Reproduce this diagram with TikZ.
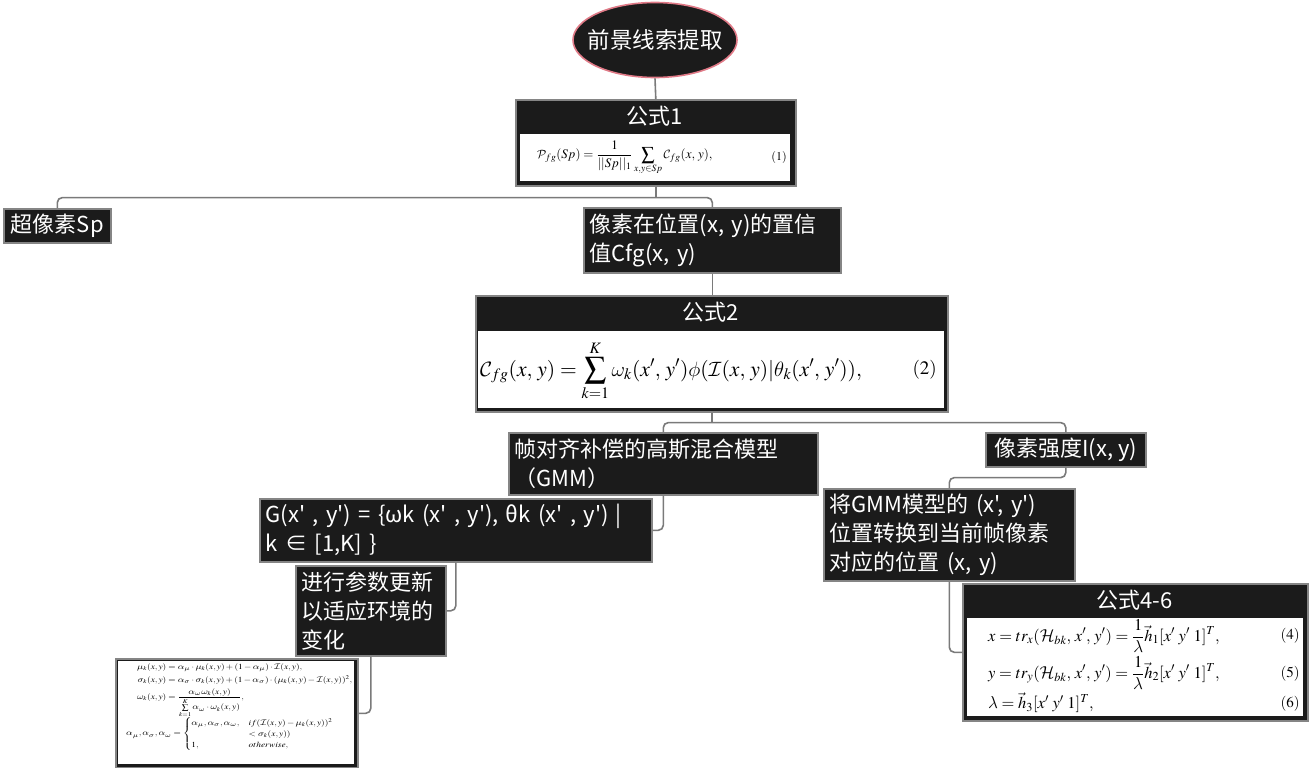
\documentclass[tikz,border=0pt]{standalone}
\usepackage{amsmath}
\usepackage{mathptmx}
\DeclareMathAlphabet{\mathcal}{OMS}{cmsy}{m}{n}
\DeclareSymbolFont{greekit}{OML}{cmm}{m}{it}
\DeclareMathSymbol{\alpha}{\mathord}{greekit}{"0B}
\DeclareMathSymbol{\theta}{\mathord}{greekit}{"12}
\DeclareMathSymbol{\lambda}{\mathord}{greekit}{"15}
\DeclareMathSymbol{\mu}{\mathord}{greekit}{"16}
\DeclareMathSymbol{\sigma}{\mathord}{greekit}{"1B}
\DeclareMathSymbol{\phi}{\mathord}{greekit}{"1E}
\DeclareMathSymbol{\omega}{\mathord}{greekit}{"21}
\usepackage{fontspec}
\setmainfont{Noto Sans CJK SC}[Ligatures=TeXOff]
\usetikzlibrary{shapes.geometric}
\definecolor{boxfill}{HTML}{1B1B1B}
\definecolor{boxline}{HTML}{858585}
\definecolor{linkgray}{HTML}{7A7A7A}
\definecolor{rootline}{HTML}{E07A87}

\begin{document}
\begin{tikzpicture}[x=1pt,y=-1pt,
    topic node/.style={rectangle,draw=boxline,line width=1.6pt,fill=boxfill,text=white,
      font=\fontsize{22}{29}\selectfont,inner xsep=6pt,inner ysep=3pt,anchor=north west,align=left},
    root node/.style={ellipse,draw=rootline,line width=1.6pt,fill=boxfill,text=white,inner sep=0pt,
      font=\fontsize{22.5}{27}\selectfont,minimum width=164pt,minimum height=75pt},
    formula box/.style={rectangle,draw=boxline,line width=1.6pt,fill=boxfill,anchor=north west},
    sheet node/.style={rectangle,fill=white,inner sep=0pt,anchor=north west},
    head node/.style={text=white,font=\fontsize{22}{26}\selectfont,inner sep=0pt},
    eq node/.style={inner sep=0pt,text=black},
    link/.style={draw=linkgray,line width=1.6pt,rounded corners=5pt}]
  \fill[white] (0,0) rectangle (1310,768);
  \useasboundingbox (0,0) rectangle (1310,768);

  % root
  \node[root node] (root) at (655,40) {\makebox[100pt]{前景线索提取}};

  % formula 1
  \node[formula box,minimum width=280pt,minimum height=86pt] (f1) at (515,99) {};
  \node[sheet node,minimum width=270pt,minimum height=47pt] (f1s) at (520,134) {};
  \node[head node] (f1t) at (655,116) {公式1};
  \node[eq node,anchor=west,font=\fontsize{13}{15}\selectfont] (f1e) at (537,158)
    {$\displaystyle \mathcal{P}_{fg}(Sp)=\frac{1}{||Sp||_1}\sum_{x,y\in Sp}\mathcal{C}_{fg}(x,\,y),$};
  \node[eq node,anchor=east,font=\fontsize{12}{14}\selectfont] (f1n) at (787,157) {$(1)$};

  % second level
  \node[topic node,minimum width=107pt,minimum height=34pt] (sp) at (3,208) {超像素Sp};
  \node[topic node,text width=245pt,minimum height=65pt] (cfg) at (583,207)
    {\mbox{像素在位置(x, y)的置信}\\\mbox{值Cfg(x, y)}};

  % formula 2
  \node[formula box,minimum width=472pt,minimum height=116pt] (f2) at (475,295) {};
  \node[sheet node,minimum width=466pt,minimum height=77pt] (f2s) at (478,331) {};
  \node[head node] (f2t) at (711,312.5) {公式2};
  \node[eq node,anchor=west,font=\fontsize{21.5}{24}\selectfont] (f2e) at (480,371)
    {$\displaystyle \mathcal{C}_{fg}(x,\,y)=\sum_{k=1}^{K}\omega_k(x',\,y')\phi(\mathcal{I}(x,\,y)|\theta_k(x',\,y')),$};
  \node[eq node,anchor=east,font=\fontsize{19}{21}\selectfont] (f2n) at (937,370) {$(2)$};

  % GMM branch
  \node[topic node,text width=297pt,minimum height=62pt] (gmm) at (508,432)
    {\mbox{帧对齐补偿的高斯混合模型}\\\mbox{（GMM）}};
  \node[topic node,text width=380pt,minimum height=63pt] (gx) at (259,498)
    {\mbox{G(x' , y') = \{ωk (x' , y'), θk (x' , y') |}\\\mbox{k ∈ [1,K] \}}};
  \node[topic node,text width=138pt,minimum height=90pt] (upd) at (295,565)
    {\mbox{进行参数更新}\\\mbox{以适应环境的}\\\mbox{变化}};

  % update formulas
  \node[formula box,minimum width=242pt,minimum height=109pt] (f3) at (115,658) {};
  \node[sheet node,minimum width=236pt,minimum height=103pt] (f3s) at (118,661) {};
  \node[eq node,anchor=north west,align=left,font=\fontsize{7.8}{9.2}\selectfont] (f3e) at (126,663)
    {\scalebox{1.2}[1]{\begin{tabular}{@{}l@{}}
    \hspace*{9pt}$\begin{aligned}
      \mu_k(x,y) &= \alpha_\mu\cdot\mu_k(x,y)+(1-\alpha_\mu)\cdot\mathcal{I}(x,y),\\
      \sigma_k(x,y) &= \alpha_\sigma\cdot\sigma_k(x,y)+(1-\alpha_\sigma)\cdot(\mu_k(x,y)-\mathcal{I}(x,y))^2,\\
      \omega_k(x,y) &= \frac{\alpha_\omega\omega_k(x,y)}{\sum\limits_{k=1}^{K}\alpha_\omega\cdot\omega_k(x,y)},
    \end{aligned}$\\[1pt]
    $\alpha_\mu,\alpha_\sigma,\alpha_\omega=\begin{cases}
      \alpha_\mu,\alpha_\sigma,\alpha_\omega, & if(\mathcal{I}(x,y)-\mu_k(x,y))^2\\
      & <\sigma_k(x,y))\\
      1, & otherwise,
    \end{cases}$
    \end{tabular}}};

  % intensity branch
  \node[topic node,minimum width=160pt,minimum height=34pt] (inten) at (985,432) {像素强度I(x, y)};
  \node[topic node,text width=239pt,minimum height=92pt] (conv) at (823,488)
    {\mbox{将GMM模型的 (x', y')}\\\mbox{位置转换到当前帧像素}\\\mbox{对应的位置 (x, y)}};

  % formula 4-6
  \node[formula box,minimum width=345pt,minimum height=137pt] (f46) at (962,583) {};
  \node[sheet node,minimum width=336pt,minimum height=98pt] (f46s) at (967,618) {};
  \node[head node] (f46t) at (1134.5,600) {公式4-6};
  \node[eq node,anchor=west,font=\fontsize{16.5}{18}\selectfont] (f4e) at (988,636)
    {$\displaystyle x=tr_x(\mathcal{H}_{bk},\,x',\,y')=\frac{1}{\lambda}\vec{h}_1[x'\ y'\ 1]^T,$};
  \node[eq node,anchor=east,font=\fontsize{15}{17}\selectfont] (f4n) at (1300,636) {$(4)$};
  \node[eq node,anchor=west,font=\fontsize{16.5}{18}\selectfont] (f5e) at (988,673)
    {$\displaystyle y=tr_y(\mathcal{H}_{bk},\,x',\,y')=\frac{1}{\lambda}\vec{h}_2[x'\ y'\ 1]^T,$};
  \node[eq node,anchor=east,font=\fontsize{15}{17}\selectfont] (f5n) at (1300,674) {$(5)$};
  \node[eq node,anchor=west,font=\fontsize{16.5}{18}\selectfont] (f6e) at (988,703)
    {$\displaystyle \lambda=\vec{h}_3[x'\ y'\ 1]^T,$};
  \node[eq node,anchor=east,font=\fontsize{15}{17}\selectfont] (f6n) at (1300,704) {$(6)$};

  % connectors
  \path (f1.south) ++(0,11) coordinate (b1);
  \path (f2.south) ++(0,10) coordinate (b2);
  \path (inten.south) ++(0,10) coordinate (b3);
  \draw[link] (root.south) -- (f1.north);
  \draw[link] (f1.south) -- (b1);
  \draw[link] (sp.north) |- (b1) -| (cfg.north);
  \draw[link] (cfg.south) -- (cfg.south |- f2.north);
  \draw[link] (f2.south) -- (b2);
  \draw[link] (gmm.north) |- (b2) -| (inten.north);
  \draw[link] (gmm.south) |- (gx.east);
  \draw[link] (gx.south) |- (upd.east);
  \draw[link] (upd.south) |- (f3.east);
  \draw[link] (inten.south) -- (b3) -| (conv.north);
  \draw[link] (conv.south) |- (f46.west);
\end{tikzpicture}
\end{document}
